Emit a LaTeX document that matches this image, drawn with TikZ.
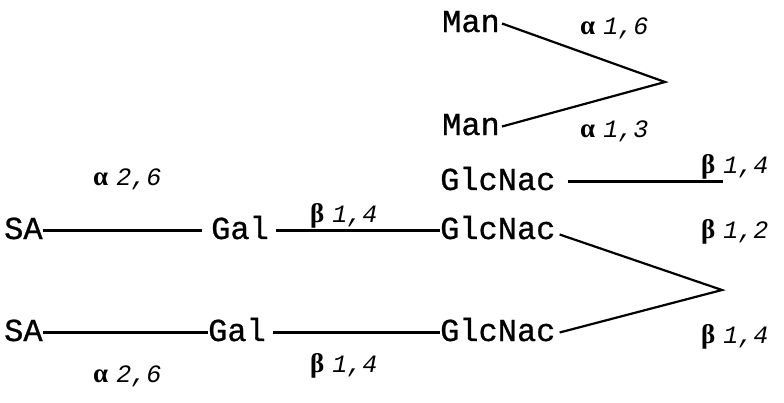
\documentclass[tikz,border=0pt]{standalone}
\usepackage{fontspec}
\newfontfamily\sugarfont[UprightFeatures={FakeBold=0.8}]{Liberation Mono}
\newfontfamily\numfont{Liberation Mono}
\newfontfamily\grkfont{Liberation Serif}
\newcommand{\lnk}[2]{{\grkfont\bfseries\fontsize{27}{27}\selectfont #1}\hspace{8pt}{\numfont\itshape #2}}
\begin{document}
\begin{tikzpicture}[x=1pt,y=-1pt,
  sugar/.style={font=\sugarfont\fontsize{32}{32}\selectfont, inner sep=0pt, text height=17pt, text depth=0pt, anchor=base west},
  lbl/.style={font=\fontsize{25}{25}\selectfont, inner sep=0pt, anchor=base west},
  bond/.style={line width=2.2pt, line join=miter}]
\path[use as bounding box] (0,0) rectangle (784,402);
% sugars
\node[sugar] (manA) at (442,32) {Man};
\node[sugar] (manB) at (442,135) {Man};
\node[sugar] (glcA) at (440,190) {GlcNac};
\node[sugar] (glcB) at (440,239) {GlcNac};
\node[sugar] (glcC) at (440,341) {GlcNac};
\node[sugar] (saA) at (4,239) {SA};
\node[sugar] (saB) at (4,341) {SA};
\node[sugar] (galA) at (211,239) {Gal};
\node[sugar] (galB) at (208,341) {Gal};
% free ends
\coordinate (apexM) at (665,82);
\coordinate (apexG) at (722,290);
\coordinate (endA) at (723,0);
% bonds
\draw[bond] (saA.east) -- ([xshift=-9pt]galA.west);
\draw[bond] ([xshift=7pt]galA.east) -- (glcB.west);
\draw[bond] (saB.east) -- (galB.west);
\draw[bond] ([xshift=7pt]galB.east) -- (glcC.west);
\draw[bond] ([xshift=12pt]glcA.east) -- (glcA.east -| endA);
\draw[bond] ([shift={(4pt,-4pt)}]glcB.east) -- (apexG) -- ([xshift=4pt]glcC.east);
\draw[bond] ([xshift=2pt]manA.east) -- (apexM) -- ([xshift=2pt]manB.east);
% linkage labels
\node[lbl] (l16) at (580,34) {\lnk{α}{1,6}};
\node[lbl] (l13) at (580,137) {\lnk{α}{1,3}};
\node[lbl] (l14a) at (701,173) {\lnk{β}{1,4}};
\node[lbl] (l12) at (701,238) {\lnk{β}{1,2}};
\node[lbl] (l14b) at (701,343) {\lnk{β}{1,4}};
\node[lbl] (l26a) at (93,185) {\lnk{α}{2,6}};
\node[lbl] (l26b) at (93,382) {\lnk{α}{2,6}};
\node[lbl] (l14c) at (310,222) {\lnk{β}{1,4}};
\node[lbl] (l14d) at (310,372) {\lnk{β}{1,4}};
\end{tikzpicture}
\end{document}
